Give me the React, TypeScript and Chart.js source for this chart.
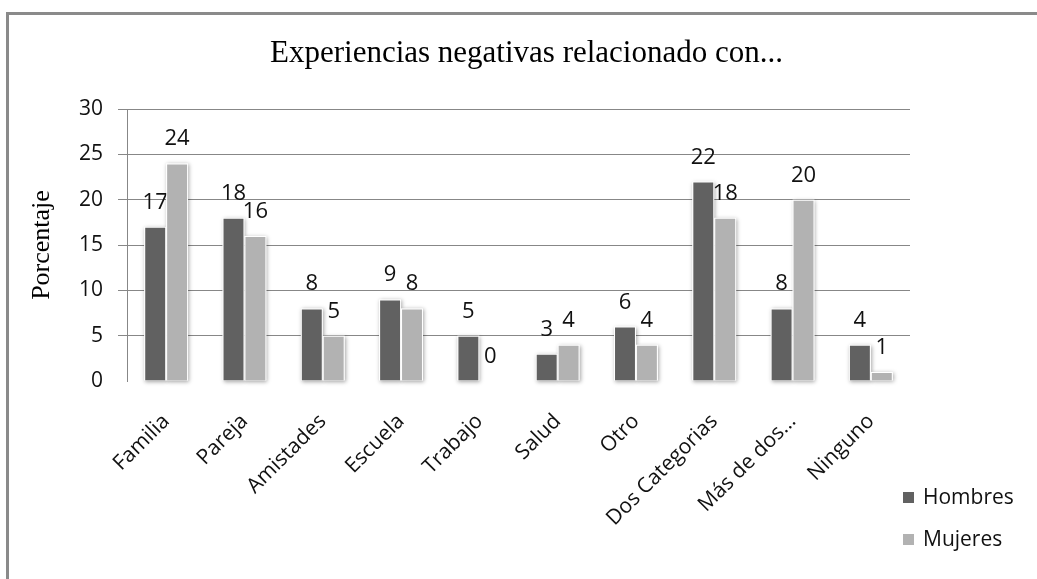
import React, { useEffect, useRef } from "react";
import { Chart, registerables } from "chart.js";

Chart.register(...registerables);

const categories = [
  "Familia",
  "Pareja",
  "Amistades",
  "Escuela",
  "Trabajo",
  "Salud",
  "Otro",
  "Dos Categorias",
  "Más de dos…",
  "Ninguno",
];
const hombres = [17, 18, 8, 9, 5, 3, 6, 22, 8, 4];
const mujeres = [24, 16, 5, 8, 0, 4, 4, 18, 20, 1];
const seriesNames = ["Hombres", "Mujeres"];
const seriesColors = ["#616161", "#b2b2b2"];
const yTicks = { min: 0, max: 30, step: 5 };
const titleText = "Experiencias negativas relacionado con...";
const yTitle = "Porcentaje";

const SANS = "'Open Sans', 'Liberation Sans', sans-serif";
const SERIF = "'Liberation Serif', 'DejaVu Serif', serif";

const shadowPlugin = {
  id: "barShadow",
  beforeDatasetsDraw(chart: any) {
    const ctx = chart.ctx;
    ctx.save();
    ctx.shadowColor = "rgba(0,0,0,0.35)";
    ctx.shadowBlur = 4;
    ctx.shadowOffsetX = 1;
    ctx.shadowOffsetY = 1;
    ctx.fillStyle = "#ffffff";
    chart.data.datasets.forEach((_: any, di: number) => {
      const meta = chart.getDatasetMeta(di);
      meta.data.forEach((bar: any) => {
        const { x, y, base, width } = bar.getProps(["x", "y", "base", "width"], true);
        const h = base - y;
        if (h > 0.5) ctx.fillRect(x - width / 2, y, width, h);
      });
    });
    ctx.restore();
  },
};

function drawLabels(chart: any, di: number) {
  const ctx = chart.ctx;
  const meta = chart.getDatasetMeta(di);
  const values = chart.data.datasets[di].data;
  ctx.save();
  ctx.font = `22px ${SANS}`;
  ctx.fillStyle = "#111";
  ctx.textAlign = "center";
  ctx.textBaseline = "alphabetic";
  meta.data.forEach((bar: any, i: number) => {
    const { x, y } = bar.getProps(["x", "y"], true);
    ctx.fillText(String(values[i]), x, y - 18);
  });
  ctx.restore();
}

const labelPlugin = {
  id: "valueLabels",
  beforeDatasetsDraw(chart: any) {
    drawLabels(chart, 0);
  },
  afterDatasetsDraw(chart: any) {
    drawLabels(chart, 1);
  },
};

const titlePlugin = {
  id: "customTitle",
  afterDraw(chart: any) {
    const ctx = chart.ctx;
    ctx.save();
    ctx.font = `31px ${SERIF}`;
    ctx.fillStyle = "#000";
    ctx.textAlign = "center";
    ctx.textBaseline = "alphabetic";
    ctx.fillText(titleText, chart.width / 2 + 8, 62);
    ctx.restore();
  },
};

const legendPlugin = {
  id: "customLegend",
  afterDraw(chart: any) {
    const ctx = chart.ctx;
    const area = chart.chartArea;
    ctx.save();
    ctx.font = `21px ${SANS}`;
    ctx.textAlign = "left";
    ctx.textBaseline = "middle";
    seriesNames.forEach((name, i) => {
      const x = area.right - 7;
      const y = area.bottom + 111 + i * 42;
      ctx.fillStyle = seriesColors[i];
      ctx.fillRect(x, y, 11, 11);
      ctx.fillStyle = "#111";
      ctx.fillText(name, x + 20, y + 6);
    });
    ctx.restore();
  },
};

export default function App() {
  const ref = useRef<HTMLCanvasElement | null>(null);

  useEffect(() => {
    if (!ref.current) return;
    const chart = new Chart(ref.current, {
      type: "bar",
      data: {
        labels: categories,
        datasets: [
          {
            label: seriesNames[0],
            data: hombres,
            backgroundColor: seriesColors[0],
            borderColor: "#ffffff",
            borderWidth: 1,
            categoryPercentage: 0.56,
            barPercentage: 1,
          },
          {
            label: seriesNames[1],
            data: mujeres,
            backgroundColor: seriesColors[1],
            borderColor: "#ffffff",
            borderWidth: 1,
            categoryPercentage: 0.56,
            barPercentage: 1,
          },
        ],
      },
      options: {
        animation: false,
        responsive: false,
        devicePixelRatio: 1,
        layout: { padding: { left: 0, top: 109, right: 127, bottom: 0 } },
        plugins: {
          legend: { display: false },
          title: { display: false },
          tooltip: { enabled: false },
        },
        scales: {
          x: {
            grid: { display: false },
            border: { display: false },
            ticks: {
              minRotation: 45,
              maxRotation: 45,
              autoSkip: false,
              padding: 20,
              color: "#111",
              font: { family: SANS, size: 21 },
            },
            afterFit(scale: any) {
              scale.height = 198;
            },
          },
          y: {
            min: yTicks.min,
            max: yTicks.max,
            ticks: {
              stepSize: yTicks.step,
              padding: 15,
              color: "#111",
              font: { family: SANS, size: 21 },
            },
            grid: {
              color: (c: any) => (c.tick && c.tick.value === 0 ? "rgba(0,0,0,0)" : "#878787"),
              lineWidth: 1,
              tickLength: 9,
            },
            border: { display: true, color: "#878787", width: 1 },
            title: {
              display: true,
              text: yTitle,
              color: "#000",
              font: { family: SERIF, size: 26 },
              padding: { top: 27, bottom: 0 },
            },
            afterFit(scale: any) {
              scale.width = 127;
            },
          },
        },
      },
      plugins: [shadowPlugin, labelPlugin, titlePlugin, legendPlugin],
    } as any);
    return () => chart.destroy();
  }, []);

  return (
    <div style={{ position: "fixed", left: 0, top: 0, width: 1037, height: 579, background: "#fff", overflow: "hidden" }}>
      <canvas ref={ref} width={1037} height={579} style={{ display: "block", width: 1037, height: 579 }} />
      <div
        style={{
          position: "absolute",
          left: 6,
          top: 12,
          width: 1100,
          height: 700,
          borderTop: "3px solid #8a8a8a",
          borderLeft: "3px solid #8a8a8a",
          pointerEvents: "none",
        }}
      />
    </div>
  );
}
